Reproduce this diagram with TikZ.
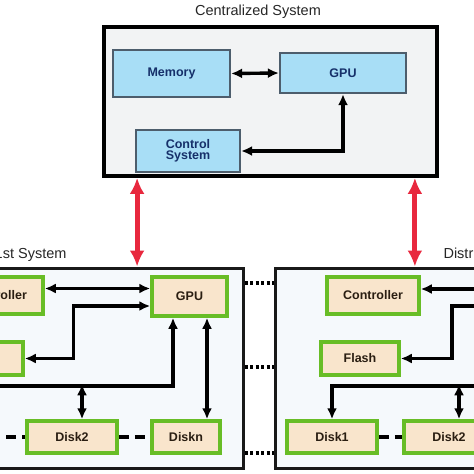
\documentclass[tikz,border=0pt]{standalone}
\usepackage{fontspec}
\setmainfont{Liberation Sans}
\usetikzlibrary{arrows.meta, positioning}
\definecolor{cfill}{HTML}{F2F3F4}
\definecolor{sfill}{HTML}{F5F9FC}
\definecolor{bfill}{HTML}{A8DEF6}
\definecolor{bline}{HTML}{4D5D6C}
\definecolor{bfont}{HTML}{16306A}
\definecolor{gfill}{HTML}{F9E5CC}
\definecolor{gline}{HTML}{68BD26}
\definecolor{gfont}{HTML}{2A1E12}
\definecolor{rpil}{HTML}{E8283E}
\tikzset{
    %Define style for the big boxes
    cbox/.style={
           rectangle,
           draw=black, line width=3.8pt,
           fill=cfill},
    sysbox/.style={
           rectangle,
           draw=black!90, line width=3pt,
           fill=sfill},
    %blue and beige boxes
    blu/.style={
           rectangle,
           draw=bline, line width=2.2pt,
           fill=bfill,
           text=bfont,
           font=\bfseries\fontsize{12.5}{14}\selectfont,
           align=center},
    beig/.style={
           rectangle,
           draw=gline, line width=3.5pt,
           fill=gfill,
           text=gfont,
           font=\bfseries\fontsize{12.5}{14}\selectfont},
    ttl/.style={
           font=\fontsize{14.5}{16}\selectfont,
           text=black!85},
    % Define arrow styles
    pil/.style={
           line width=3.4pt,
           arrows={-Latex[length=11pt,width=10pt]}},
    dpil/.style={
           line width=3.4pt,
           arrows={Latex[length=11pt,width=10pt]-Latex[length=11pt,width=10pt]}},
    redpil/.style={
           rpil, line width=5pt,
           arrows={Latex[length=16pt,width=15pt]-Latex[length=16pt,width=15pt]}},
    dashl/.style={
           line width=3.4pt,
           dash pattern=on 10pt off 6pt},
    dotl/.style={
           line width=3.2pt,
           dash pattern=on 3pt off 2.5pt}
}
\begin{document}
\begin{tikzpicture}[x=1pt, y=-1pt]
\useasboundingbox (0,0) rectangle (474,474);
\clip (0,0) rectangle (474,474);

% centralized part
\node[ttl] (ctitle) at (258,12) {Centralized System};
\node[cbox, minimum width=333pt, minimum height=149pt] (cent) at (270.5,101.5) {};
\node[blu, minimum width=117pt, minimum height=47pt] (mem) at (171.5,73.5) {Memory};
\node[blu, minimum width=126pt, minimum height=40pt] (cgpu) at (343,73) {GPU};
\node[blu, minimum width=104pt, minimum height=42pt] (ctrl) at (188,151) {Control\\[-3pt]System};

\draw[dpil] (mem.east) -- (cgpu.west);
\draw[dpil] (cgpu.south) |- (ctrl.east);

% the two distributed systems
\node[sysbox, minimum width=303pt, minimum height=200pt] (lsys) at (91.5,368) {};
\node[sysbox, minimum width=285pt, minimum height=200pt] (rsys) at (417.5,368) {};
\node[ttl, anchor=base east] (ltitle) at (70,258) {Distributed 1st System};
\node[ttl, anchor=base west] (rtitle) at (440,258) {Distributed 2nd System};

\draw[redpil] ([xshift=35pt]cent.south west) -- ([xshift=35pt]cent.south west |- lsys.north);
\draw[redpil] ([xshift=-24pt]cent.south east) -- ([xshift=-24pt]cent.south east |- rsys.north);

\foreach \s in {85,1,-85}
  \draw[dotl] ([yshift=\s pt]lsys.east) -- ([yshift=\s pt]rsys.west);

% left system
\node[beig, minimum width=92pt, minimum height=37pt] (lctrl) at (-3,295.5) {Controller};
\node[beig, minimum width=78pt, minimum height=33pt] (lflash) at (-16,358.5) {Flash};
\node[beig, minimum width=75pt, minimum height=39pt] (lgpu) at (189.5,296.5) {GPU};
\node[beig, minimum width=90pt, minimum height=32pt] (ldisk2) at (72,437) {Disk2};
\node[beig, minimum width=68pt, minimum height=32pt] (ldiskn) at (186,437) {Diskn};
\coordinate (lbus) at (-10,386);
\coordinate (ldisk1) at (-10,437);

\draw[dpil] ([yshift=7pt]lctrl.east) -- ([yshift=7pt]lctrl.east -| lgpu.west);
\draw[dpil] ([yshift=-9.5pt]lgpu.west) -- ++(-77,0) |- (lflash.east);
\draw[pil] (lbus) -| ([xshift=-16.5pt]lgpu.south);
\draw[dpil] ([xshift=10pt]ldisk2.north) -- ++(0,-35);
\draw[dpil] ([xshift=17.5pt]lgpu.south) -- ([xshift=17.5pt]lgpu.south |- ldiskn.north);
\draw[dashl] (ldisk1) -- (ldisk2.west);
\draw[dashl] (ldisk2.east) -- (ldiskn.west);

% right system
\node[beig, minimum width=92pt, minimum height=37pt] (rctrl) at (373,295.5) {Controller};
\node[beig, minimum width=78pt, minimum height=33pt] (rflash) at (360,358.5) {Flash};
\node[beig, minimum width=90pt, minimum height=32pt] (rdisk1) at (332,437) {Disk1};
\node[beig, minimum width=90pt, minimum height=32pt] (rdisk2) at (449,437) {Disk2};
\coordinate (rc1) at (480,289);
\coordinate (rf1) at (480,306);
\coordinate (rbus) at (480,386);

\draw[pil] (rc1) -- (rc1 -| rctrl.east);
\draw[pil] (rf1) -- ++(-28,0) |- (rflash.east);
\draw[pil] (rbus) -| (rdisk1.north);
\draw[dpil] ([xshift=10pt]rdisk2.north) -- ++(0,-35);
\draw[dashl] (rdisk1.east) -- (rdisk2.west);

\end{tikzpicture}
\end{document}
